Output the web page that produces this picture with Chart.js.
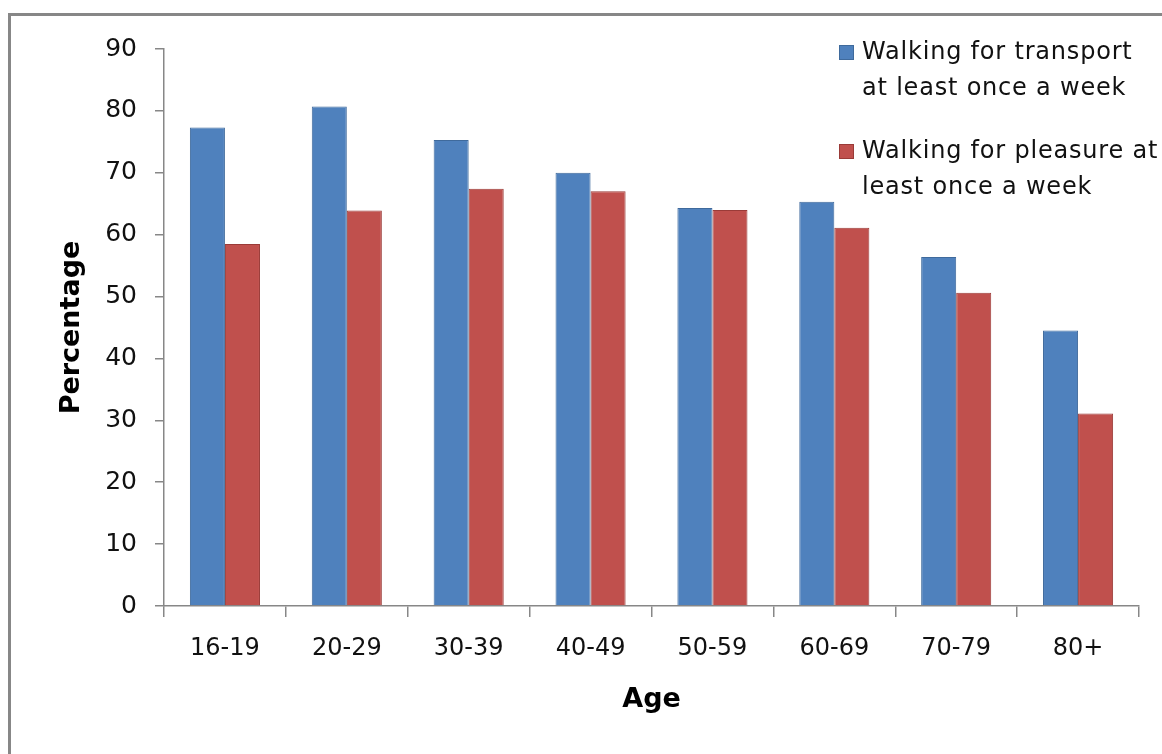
<!DOCTYPE html>
<html>
<head>
<meta charset="utf-8">
<style>
	body {
		margin: 0;
		background: #fff;
	}

	.wrapper {
		position: relative;
		width: 1162px;
		height: 754px;
		overflow: hidden;
	}

	.frame {
		position: absolute;
		left: 8px;
		top: 13px;
		width: 1200px;
		height: 800px;
		border: 3px solid #878787;
		pointer-events: none;
	}

	.wrapper canvas {
		position: absolute;
		left: 0;
		top: 0;
	}
</style>
</head>
<body>
<div class="wrapper">
	<div class="frame"></div>
	<canvas id="walkChart" width="1162" height="754"></canvas>
</div>

<script src="https://cdn.jsdelivr.net/npm/chart.js"></script>

<script>
	var ageGroups = ['16-19', '20-29', '30-39', '40-49', '50-59', '60-69', '70-79', '80+'];

	var transport = [77.3, 80.7, 75.3, 70.0, 64.3, 65.3, 56.4, 44.5];
	var pleasure = [58.5, 63.9, 67.4, 67.0, 64.0, 61.1, 50.6, 31.1];

	var transportName = ['Walking for transport', 'at least once a week'];
	var pleasureName = ['Walking for pleasure at', 'least once a week'];

	var yTicks = [0, 10, 20, 30, 40, 50, 60, 70, 80, 90];

	var fontFamily = '"DejaVu Sans", sans-serif';

	// legend drawn inside the plot, top right, two lines each
	var sideLegend = {
		id: 'sideLegend',
		afterDraw: function (chart) {
			var ctx = chart.ctx;
			ctx.save();
			ctx.font = '24px ' + fontFamily;
			ctx.letterSpacing = '0.8px';
			ctx.textBaseline = 'middle';
			ctx.textAlign = 'left';
			chart.data.datasets.forEach(function (ds, i) {
				var top = 53 + i * 99;
				ctx.fillStyle = ds.backgroundColor;
				ctx.strokeStyle = ds.borderColor;
				ctx.lineWidth = 1;
				ctx.fillRect(839, top - 8, 15, 15);
				ctx.strokeRect(839.5, top - 7.5, 14, 14);
				ctx.fillStyle = '#111';
				ds.legendLines.forEach(function (line, j) {
					ctx.fillText(line, 862, top + j * 36);
				});
			});
			ctx.restore();
		}
	};

	new Chart(document.getElementById('walkChart'), {
		type: 'bar',
		data: {
			labels: ageGroups,
			datasets: [
				{
					label: transportName.join(' '),
					legendLines: transportName,
					data: transport,
					backgroundColor: '#4F81BD',
					borderColor: '#3F6A9C',
					borderWidth: 1,
					categoryPercentage: 0.575,
					barPercentage: 1
				},
				{
					label: pleasureName.join(' '),
					legendLines: pleasureName,
					data: pleasure,
					backgroundColor: '#C0504D',
					borderColor: '#9A3B38',
					borderWidth: 1,
					categoryPercentage: 0.575,
					barPercentage: 1
				}
			]
		},
		options: {
			responsive: false,
			animation: false,
			layout: {
				padding: { left: 0, top: 49, right: 23, bottom: 0 }
			},
			plugins: {
				legend: { display: false },
				tooltip: { enabled: false }
			},
			scales: {
				x: {
					afterFit: function (scale) { scale.height = 148; },
					border: { color: '#878787', width: 1.5 },
					grid: {
						offset: true,
						drawOnChartArea: false,
						color: '#878787',
						lineWidth: 1.5,
						tickLength: 11
					},
					ticks: {
						color: '#111',
						padding: 17,
						font: { family: fontFamily, size: 24 }
					},
					title: {
						display: true,
						text: 'Age',
						color: '#000',
						padding: { top: 38, bottom: 38 },
						font: { family: fontFamily, size: 27, weight: 'bold' }
					}
				},
				y: {
					min: 0,
					max: 90,
					afterFit: function (scale) { scale.width = 164; },
					afterBuildTicks: function (scale) {
						scale.ticks = yTicks.map(function (v) { return { value: v }; });
					},
					border: { color: '#878787', width: 1.5 },
					grid: {
						drawOnChartArea: false,
						color: '#878787',
						lineWidth: 1.5,
						tickLength: 9
					},
					ticks: {
						color: '#111',
						padding: 18,
						font: { family: fontFamily, size: 25 }
					},
					title: {
						display: true,
						text: 'Percentage',
						color: '#000',
						padding: { top: 56, bottom: 4 },
						font: { family: fontFamily, size: 27, weight: 'bold' }
					}
				}
			}
		},
		plugins: [sideLegend]
	});
</script>
</body>
</html>
